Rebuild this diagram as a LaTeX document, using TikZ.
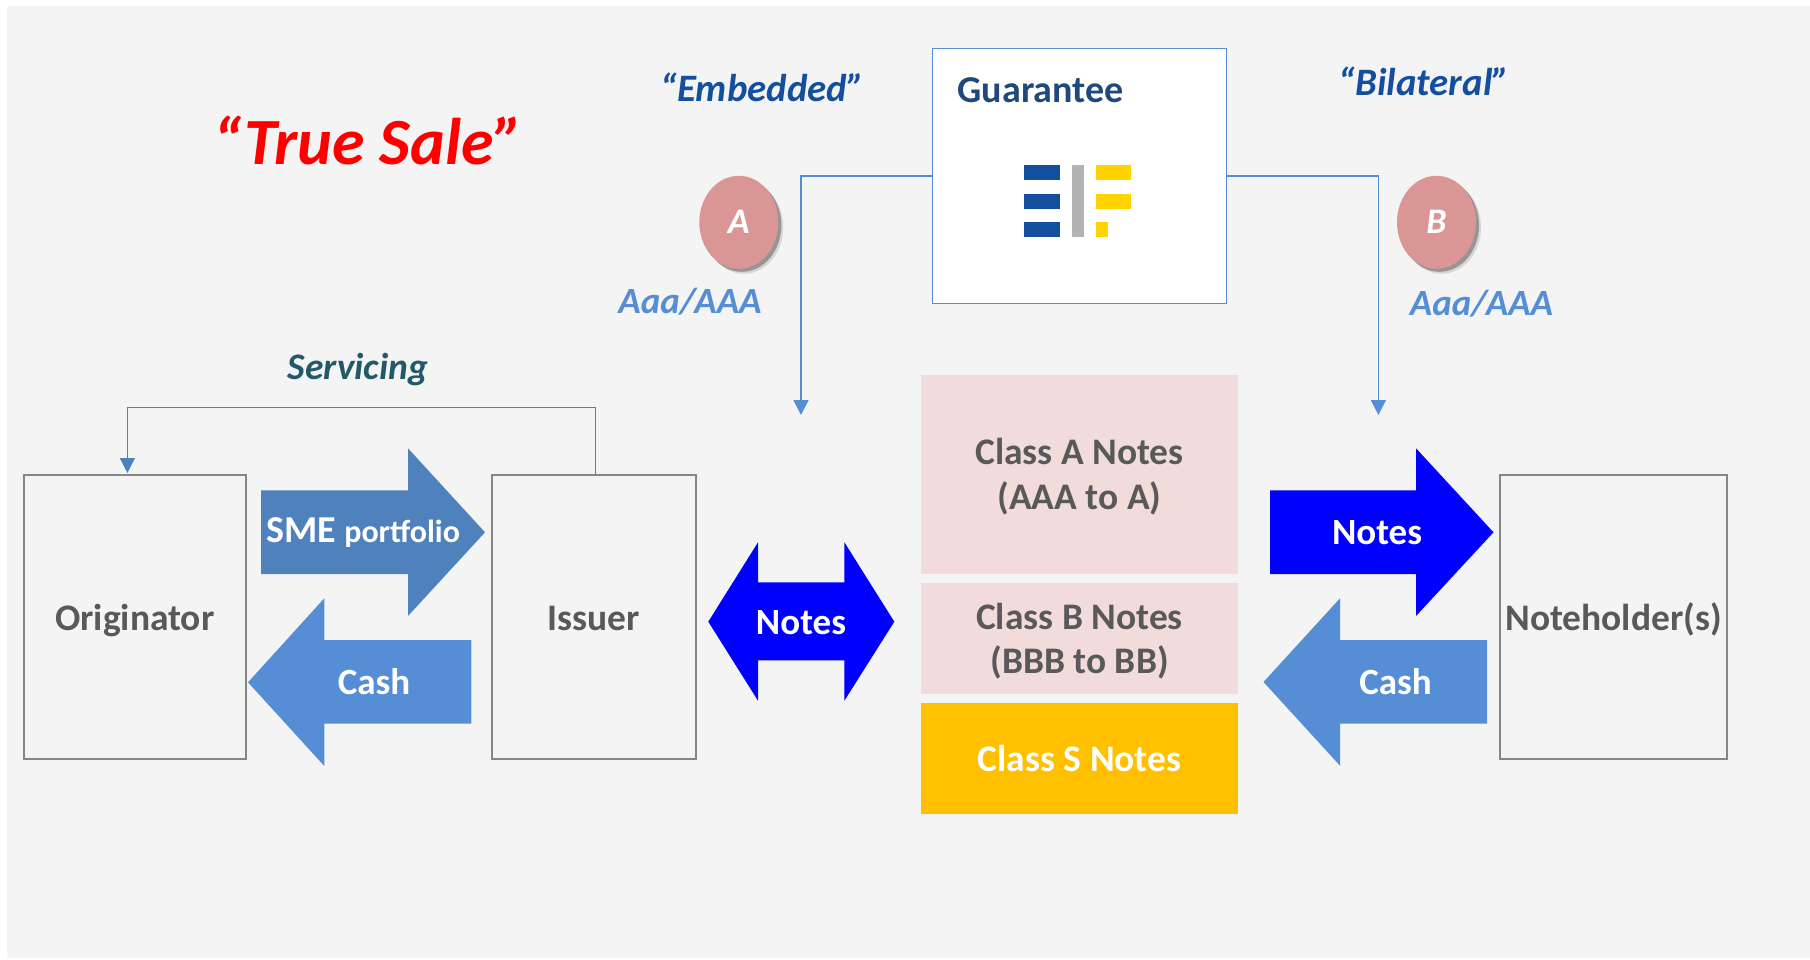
\documentclass[tikz,border=0pt]{standalone}
\usepackage{fontspec}
\setmainfont{Carlito}
\usetikzlibrary{arrows.meta,shadows,shapes.geometric}
\definecolor{panelgray}{HTML}{F4F4F4}
\definecolor{linkblue}{HTML}{558ED5}
\definecolor{smeblue}{HTML}{4F81BD}
\definecolor{boxgray}{HTML}{868686}
\definecolor{labelgray}{HTML}{595959}
\definecolor{pinknote}{HTML}{F2DCDB}
\definecolor{goldnote}{HTML}{FFC000}
\definecolor{ratingpink}{HTML}{D99694}
\definecolor{eifblue}{HTML}{134F9E}
\definecolor{eifgold}{HTML}{FFD200}
\definecolor{eifgray}{HTML}{B3B3B3}
\definecolor{quoteblue}{HTML}{134F9E}
\definecolor{guarblue}{HTML}{1F497D}
\definecolor{servteal}{HTML}{215968}
\newcommand{\sz}[1]{\fontsize{#1}{44pt}\selectfont}
\tikzset{
  partybox/.style={draw=boxgray,line width=1.6pt,fill=panelgray,minimum height=284pt,inner sep=0pt,font=\bfseries\sz{37.5},text=labelgray,text height=26pt,text depth=0pt},
  noteblock/.style={minimum width=317pt,inner sep=0pt,align=center,font=\bfseries\sz{37.5},text=labelgray},
  arrowlabel/.style={inner sep=0pt,font=\bfseries\sz{37},text=white},
  ratingdot/.style={ellipse,minimum width=79pt,minimum height=93pt,inner sep=0pt,fill=ratingpink,text=white,font=\bfseries\itshape\sz{36},
    drop shadow={shadow xshift=5pt,shadow yshift=-5pt,fill=black,opacity=.12},
    drop shadow={shadow xshift=3pt,shadow yshift=-3pt,fill=black,opacity=.3}},
  ratinglabel/.style={inner sep=0pt,font=\bfseries\itshape\sz{37},text=linkblue},
  quotelabel/.style={inner sep=0pt,font=\bfseries\itshape\sz{38.8},text=quoteblue},
  guarlink/.style={draw=linkblue,line width=1.6pt,-{Triangle[length=15pt,width=15pt]}},
}
\begin{document}
\begin{tikzpicture}[x=1pt,y=-1pt]
	\useasboundingbox (0,0) rectangle (1810,959);
	\fill[panelgray] (7,6) rectangle (1810,958);
	% Guarantee box
	\node[draw=linkblue,line width=1.6pt,fill=white,minimum width=294pt,minimum height=255pt,inner sep=0pt] (guarantee) at (1079.5,175.8) {};
	\node[anchor=west,inner sep=0pt,font=\bfseries\sz{38},text=guarblue] (guarantitle) at (957.5,90) {Guarantee};
	% Logo
	\foreach \y in {165,194,222} \fill[eifblue] (1024,\y) rectangle ++(36,14.5);
	\fill[eifgray] (1072,165) rectangle (1084,236.7);
	\fill[eifgold] (1096,165) rectangle ++(35,14.5);
	\fill[eifgold] (1096,194) rectangle ++(35,14.5);
	\fill[eifgold] (1096,222) rectangle ++(12,14.5);
	% Notes stack
	\node[noteblock,fill=pinknote,minimum height=199pt,text height=70pt,text depth=0pt] (classa) at (1079.5,474.5) {Class A Notes\\[1pt](AAA to A)};
	\node[noteblock,fill=pinknote,minimum height=111pt,text height=70.5pt,text depth=0pt] (classb) at (1079.5,638.7) {Class B Notes\\(BBB to BB)};
	\node[noteblock,fill=goldnote,minimum height=111pt,text=white] (classs) at (1079.5,758.5) {Class S Notes};
	% Parties
	\node[partybox,minimum width=222pt] (originator) at (134.8,617) {Originator};
	\node[partybox,minimum width=204pt] (issuer) at (593.8,617) {Issuer};
	\node[partybox,minimum width=227pt] (noteholders) at (1613.5,617) {Noteholder(s)};
	% Block arrows
	\fill[smeblue] (261,490.3) -- (408,490.3) -- (408,448.3) -- (485,532.3) -- (408,616) -- (408,574) -- (261,574) -- cycle;
	\node[arrowlabel] (smelabel) at (363,533) {\sz{38}SME {\sz{32}portfolio}};
	\fill[linkblue] (471.3,640) -- (324.3,640) -- (324.3,598.3) -- (248,682.3) -- (324.3,766) -- (324.3,723.7) -- (471.3,723.7) -- cycle;
	\node[arrowlabel] (cashleft) at (374,682) {Cash};
	\fill[blue] (758,582.3) -- (844.4,582.3) -- (844.4,542.3) -- (894.3,621.7) -- (844.4,700.7) -- (844.4,660.3) -- (758,660.3) -- (758,700.7) -- (708.3,621.7) -- (758,542.3) -- cycle;
	\node[arrowlabel] (noteslabel) at (801,623) {Notes};
	\fill[blue] (1270,490.3) -- (1416,490.3) -- (1416,448.3) -- (1493.5,532.3) -- (1416,616) -- (1416,574) -- (1270,574) -- cycle;
	\node[arrowlabel] (notesright) at (1377,533) {Notes};
	\fill[linkblue] (1487,640) -- (1340,640) -- (1340,598.3) -- (1263.5,682) -- (1340,765.7) -- (1340,723.7) -- (1487,723.7) -- cycle;
	\node[arrowlabel] (cashright) at (1395.5,682) {Cash};
	% Guarantee links
	\coordinate (embedend) at (801,415);
	\coordinate (bilatend) at (1378.4,415);
	\draw[guarlink] (guarantee.west) -| (embedend);
	\draw[guarlink] (guarantee.east) -| (bilatend);
	% Rating dots
	\node[ratingdot] (dota) at (738.8,222.3) {A};
	\node[ratingdot] (dotb) at (1436.5,222.3) {B};
	\node[ratinglabel] (ratinga) at (690,302) {Aaa/AAA};
	\node[ratinglabel] (ratingb) at (1481.5,303.5) {Aaa/AAA};
	% Titles
	\node[quotelabel] (embedded) at (762,87) {“Embedded”};
	\node[quotelabel] (bilateral) at (1424,81) {“Bilateral”};
	\node[inner sep=0pt,font=\bfseries\itshape\sz{66},text=red] (truesale) at (368,140) {“True Sale”};
	% Servicing loop
	\coordinate (servend) at (127.4,473);
	\draw[draw=smeblue,line width=1.3pt,-{Triangle[length=15pt,width=15pt]}] ([xshift=1.5pt]issuer.north) -- ++(0,-67) -| (servend);
	\node[inner sep=0pt,font=\bfseries\itshape\sz{37.5},text=servteal] (servicing) at (358,369) {Servicing};
\end{tikzpicture}
\end{document}
